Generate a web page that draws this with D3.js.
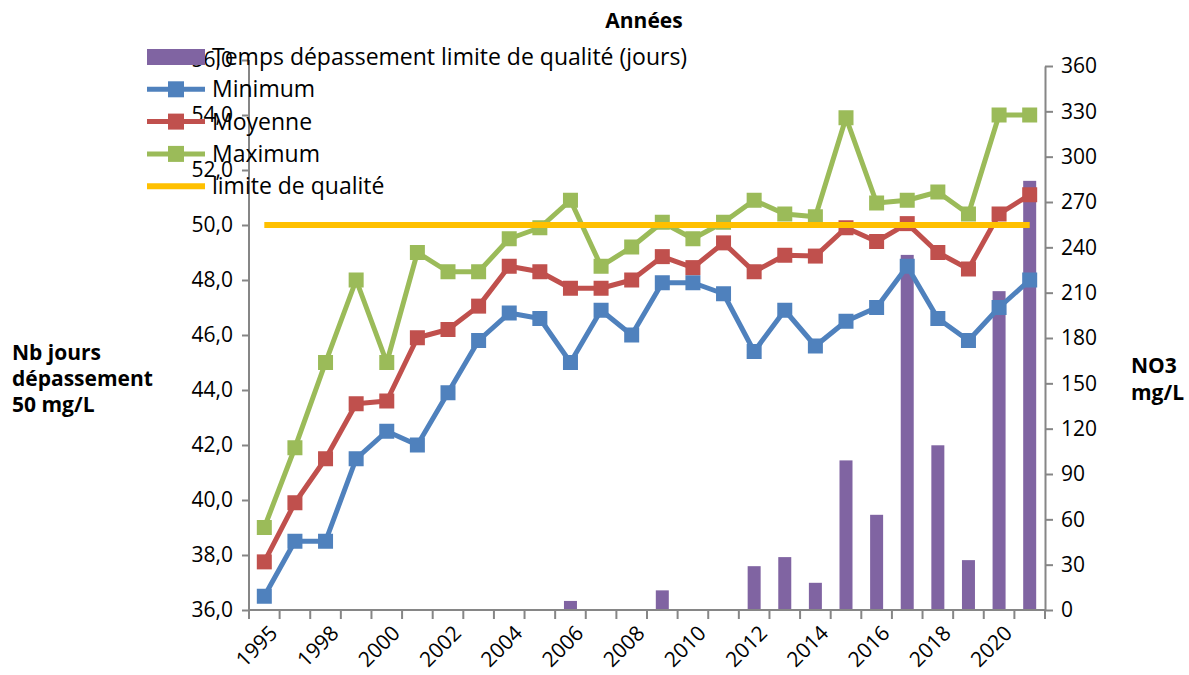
<html><head>
<meta charset="utf-8">
<title>NO3 - dépassement limite de qualité</title>
<script src="https://d3js.org/d3.v7.min.js"></script>
<style>
  body { margin: 0; background: #fff; }
  text { font-family: "Open Sans", "Noto Sans", sans-serif; fill: #000; }
</style>
</head>
<body>
<div id="chart"></div>
<script>
    const svgWidth = 1189;
    const svgHeight = 675;

    // data
    const years = ["1995","1997","1998","1999","2000","2001","2002","2003","2004","2005","2006","2007","2008",
                   "2009","2010","2011","2012","2013","2014","2015","2016","2017","2018","2019","2020","2021"];
    const joursDepassement = [0,0,0,0,0,0,0,0,0,0,6,0,0,13,0,0,29,35,18,99,63,235,109,33,211,284];
    const minimum = [36.5,38.5,38.5,41.5,42.5,42.0,43.9,45.8,46.8,46.6,45.0,46.9,46.0,
                     47.9,47.9,47.5,45.4,46.9,45.6,46.5,47.0,48.5,46.6,45.8,47.0,48.0];
    const moyenne = [37.75,39.9,41.5,43.5,43.6,45.9,46.2,47.05,48.5,48.3,47.7,47.7,48.0,
                     48.85,48.45,49.35,48.3,48.9,48.87,49.9,49.4,50.05,49.0,48.4,50.4,51.1];
    const maximum = [39.0,41.9,45.0,48.0,45.0,49.0,48.3,48.3,49.5,49.9,50.9,48.5,49.2,
                     50.1,49.5,50.1,50.9,50.4,50.3,53.9,50.8,50.9,51.2,50.4,54.0,54.0];
    const limite = 50.0;
    const leftTicks = [36,38,40,42,44,46,48,50,52,54,56];
    const rightTicks = [0,30,60,90,120,150,180,210,240,270,300,330,360];

    const purple = "#8064A2", blue = "#4F81BD", red = "#C0504D", green = "#9BBB59", yellow = "#FFC000";
    const axisColor = "#868686";

    const svg = d3.select("#chart").append("svg")
        .attr("width", svgWidth)
        .attr("height", svgHeight);

    const x = d3.scaleBand().domain(years).range([249, 1045]);
    const yLeft = d3.scaleLinear().domain([36, 56]).range([610, 60]);
    const yRight = d3.scaleLinear().domain([0, 360]).range([610, 66]);
    const cx = d => x(d) + x.bandwidth() / 2;

    // bars (right axis)
    svg.append("g").selectAll("rect")
        .data(years.map((y, i) => ({year: y, v: joursDepassement[i]})).filter(d => d.v > 0))
        .join("rect")
        .attr("x", d => cx(d.year) - 6.5)
        .attr("width", 13)
        .attr("y", d => yRight(d.v))
        .attr("height", d => yRight(0) - yRight(d.v))
        .attr("fill", purple);

    // axes
    const commaFmt = v => d3.format(".1f")(v).replace(".", ",");

    const leftAxis = svg.append("g")
        .attr("transform", "translate(249,0)")
        .call(d3.axisLeft(yLeft).tickValues(leftTicks).tickFormat(commaFmt).tickSize(7).tickSizeOuter(0).tickPadding(9));
    const rightAxis = svg.append("g")
        .attr("transform", "translate(1045,0)")
        .call(d3.axisRight(yRight).tickValues(rightTicks).tickSize(8).tickSizeOuter(0).tickPadding(8));

    // bottom axis: ticks on category boundaries, labels every other year
    const bottom = svg.append("g").attr("transform", "translate(0,610)");
    bottom.append("line").attr("x1", 249).attr("x2", 1045).attr("y1", 0).attr("y2", 0)
        .attr("stroke", axisColor).attr("stroke-width", 2);
    bottom.selectAll("line.tk")
        .data(years.concat(["end"]))
        .join("line")
        .attr("class", "tk")
        .attr("x1", (d, i) => 249 + i * x.step())
        .attr("x2", (d, i) => 249 + i * x.step())
        .attr("y1", 0).attr("y2", 9)
        .attr("stroke", axisColor).attr("stroke-width", 2);
    bottom.selectAll("text")
        .data(years.filter((d, i) => i % 2 === 0))
        .join("text")
        .attr("transform", d => "translate(" + (cx(d) + 4) + ",14) rotate(-45)")
        .attr("text-anchor", "end")
        .attr("dy", "0.7em")
        .style("font-size", "21px")
        .text(d => d);

    [leftAxis, rightAxis].forEach(a => {
        a.select(".domain").attr("stroke", axisColor).attr("stroke-width", 2);
        a.selectAll(".tick line").attr("stroke", axisColor).attr("stroke-width", 2);
        a.selectAll(".tick text").style("font-size", "21px").attr("fill", "#000");
    });
    leftAxis.select(".domain").attr("d", "M0,60V619");

    // lines
    const series = [
        {name: "Minimum", values: minimum, color: blue},
        {name: "Moyenne", values: moyenne, color: red},
        {name: "Maximum", values: maximum, color: green}
    ];
    const line = d3.line().x((d, i) => cx(years[i])).y(d => yLeft(d));
    series.forEach(s => {
        const g = svg.append("g");
        g.append("path")
            .datum(s.values)
            .attr("fill", "none")
            .attr("stroke", s.color)
            .attr("stroke-width", 5)
            .attr("stroke-linejoin", "round")
            .attr("d", line);
        g.selectAll("rect")
            .data(s.values)
            .join("rect")
            .attr("x", (d, i) => cx(years[i]) - 7.5)
            .attr("y", d => yLeft(d) - 7.5)
            .attr("width", 15).attr("height", 15)
            .attr("fill", s.color);
    });

    // quality limit
    svg.append("line")
        .attr("x1", cx(years[0])).attr("x2", cx(years[years.length - 1]))
        .attr("y1", yLeft(limite)).attr("y2", yLeft(limite))
        .attr("stroke", yellow).attr("stroke-width", 6);

    // legend
    const legend = svg.append("g");
    const items = [
        {label: "Temps dépassement limite de qualité (jours)", type: "bar", color: purple},
        {label: "Minimum", type: "line", color: blue},
        {label: "Moyenne", type: "line", color: red},
        {label: "Maximum", type: "line", color: green},
        {label: "limite de qualité", type: "plain", color: yellow}
    ];
    items.forEach((it, i) => {
        const yy = 57 + i * 32.3;
        const row = legend.append("g");
        if (it.type === "bar") {
            row.append("rect").attr("x", 147).attr("y", yy - 8).attr("width", 58).attr("height", 16).attr("fill", it.color);
        } else {
            row.append("line").attr("x1", 147).attr("x2", 205).attr("y1", yy).attr("y2", yy)
                .attr("stroke", it.color).attr("stroke-width", it.type === "plain" ? 6 : 5);
            if (it.type === "line") {
                row.append("rect").attr("x", 168).attr("y", yy - 8).attr("width", 16).attr("height", 16).attr("fill", it.color);
            }
        }
        row.append("text").attr("x", 212).attr("y", yy).attr("dy", "0.35em")
            .style("font-size", "23px").text(it.label);
    });

    // axis titles
    svg.append("text").attr("x", 644).attr("y", 28).attr("text-anchor", "middle")
        .style("font-size", "21px").style("font-weight", "bold").text("Années");

    const leftTitle = svg.append("text").attr("x", 12).style("font-size", "21px").style("font-weight", "bold");
    ["Nb jours", "dépassement", "50 mg/L"].forEach((t, i) => {
        leftTitle.append("tspan").attr("x", 12).attr("y", 360 + i * 26).text(t);
    });
    const rightTitle = svg.append("text").style("font-size", "21px").style("font-weight", "bold");
    ["NO3", "mg/L"].forEach((t, i) => {
        rightTitle.append("tspan").attr("x", 1131).attr("y", 373 + i * 27).text(t);
    });
</script>
</body></html>
